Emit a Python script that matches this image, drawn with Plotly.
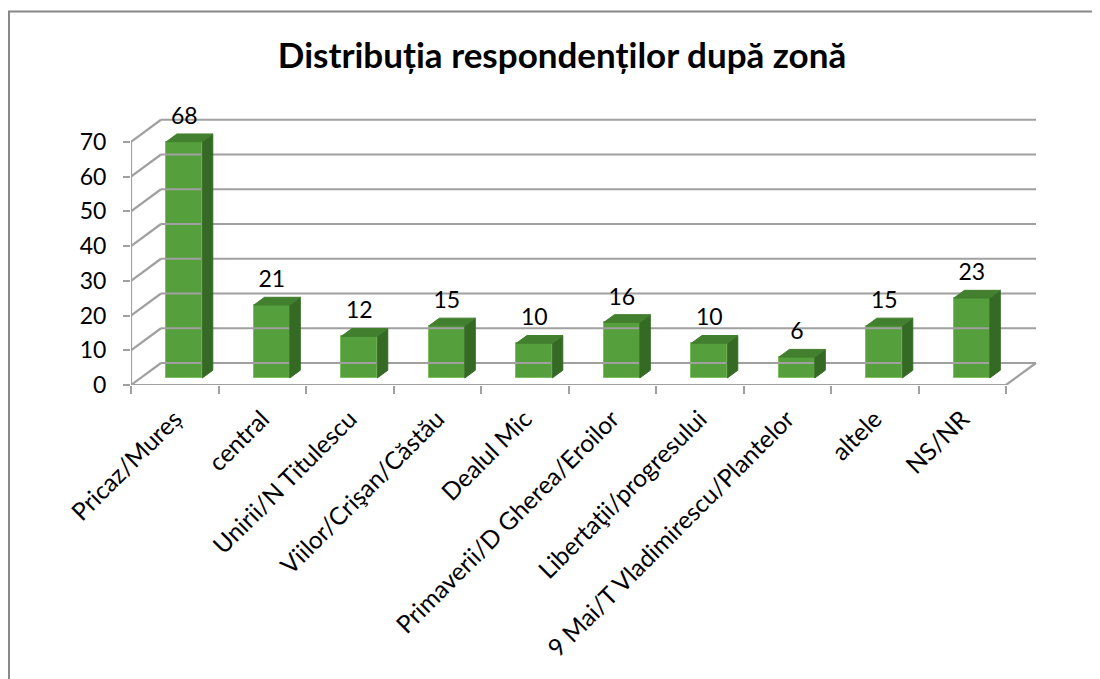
import plotly.graph_objects as go

# ---------------- data ----------------
categories = [
    "Pricaz/Mureș",
    "central",
    "Unirii/N Titulescu",
    "Viilor/Crişan/Căstău",
    "Dealul Mic",
    "Primaverii/D Gherea/Eroilor",
    "Libertaţii/progresului",
    "9 Mai/T Vladimirescu/Plantelor",
    "altele",
    "NS/NR",
]
values = [68, 21, 12, 15, 10, 16, 10, 6, 15, 23]
y_ticks = [0, 10, 20, 30, 40, 50, 60, 70]
title_text = "Distribuția respondenților după zonă"

# ---------------- geometry / style ----------------
OFF = 8                      # page body margin of the html page
W, H = 1100 - OFF, 679 - OFF
FONT = "Lato"
GRID = "#A0A0A0"
FRONT = "#559F3C"
SIDE = "#356A24"
TOP = "#427F2E"
EDGE = "#7DBF5E"

n = len(categories)
x_range = [-0.5, n - 0.5 + 0.4]
y_range = [0, 80]
ML = 131 - OFF
plot_w = 910
MR = W - ML - plot_w
MB = 679 - 385
MT = H - MB - 278
plot_h = H - MT - MB
px_cat = plot_w / (x_range[1] - x_range[0])
px_unit = plot_h / (y_range[1] - y_range[0])
DX = 30 / px_cat      # depth offset in category units
DY = 22 / px_unit     # depth offset in value units
d0, d1 = 0.32, 0.67   # bar depth span (fraction of floor depth)
bw = 0.41             # bar width in category units

fig = go.Figure()

# back wall gridlines, left wall diagonals, floor, front axis line
gx, gy = [], []
xl, xr = -0.5, n - 0.5
ymax = y_ticks[-1]
for v in y_ticks:
    gx += [xl + DX, xr + DX, None]
    gy += [v + DY, v + DY, None]
    gx += [xl, xl + DX, None]
    gy += [v, v + DY, None]
gx += [xl, xr, None, xr, xr + DX, None, xl, xl, None]
gy += [0, 0, None, 0, DY, None, 0, ymax, None]
fig.add_trace(go.Scatter(x=gx, y=gy, mode="lines",
                         line=dict(color=GRID, width=2.2),
                         hoverinfo="skip", cliponaxis=False, showlegend=False))

# bar front faces
xc = [i + d0 * DX for i in range(n)]
base = d0 * DY
fig.add_trace(go.Bar(x=xc, y=values, base=[base] * n, width=bw,
                     marker=dict(color=FRONT, line=dict(color=EDGE, width=1)),
                     hoverinfo="skip", showlegend=False))

# 3D top and side faces computed from the values
ddx = (d1 - d0) * DX
ddy = (d1 - d0) * DY
tx, ty, sx, sy = [], [], [], []
for c, v in zip(xc, values):
    x0, x1 = c - bw / 2, c + bw / 2
    t = base + v
    tx += [x0, x1, x1 + ddx, x0 + ddx, x0, None]
    ty += [t, t, t + ddy, t + ddy, t, None]
    sx += [x1, x1, x1 + ddx, x1 + ddx, x1, None]
    sy += [base, t, t + ddy, base + ddy, base, None]
fig.add_trace(go.Scatter(x=sx, y=sy, mode="lines", fill="toself",
                         fillcolor=SIDE, line=dict(color=SIDE, width=1),
                         hoverinfo="skip", showlegend=False))
fig.add_trace(go.Scatter(x=tx, y=ty, mode="lines", fill="toself",
                         fillcolor=TOP, line=dict(color=TOP, width=1),
                         hoverinfo="skip", showlegend=False))

# data labels
fig.add_trace(go.Scatter(x=xc, y=[v + 8.8 for v in values], mode="text",
                         text=[str(v) for v in values],
                         textposition="middle center",
                         textfont=dict(family=FONT, size=23, color="#000000"),
                         hoverinfo="skip", cliponaxis=False, showlegend=False))

# outer chart border
def px_to_paper_x(px):
    return (px - OFF - ML) / plot_w

def py_to_paper_y(py):
    return (H - MB - (py - OFF)) / plot_h

fig.add_shape(type="rect", xref="paper", yref="paper",
              x0=px_to_paper_x(9), x1=px_to_paper_x(1100 + 5),
              y0=py_to_paper_y(679 + 5), y1=py_to_paper_y(11.5),
              line=dict(color="#888888", width=2), fillcolor="rgba(0,0,0,0)")

fig.update_layout(
    width=W, height=H,
    margin=dict(l=ML, r=MR, t=MT, b=MB, autoexpand=False),
    paper_bgcolor="white", plot_bgcolor="white",
    bargap=0,
    title=dict(text="<b>" + title_text + "</b>", x=(562 - OFF) / W, xref="container",
               xanchor="center", y=1 - (56 - OFF) / H, yref="container", yanchor="middle",
               font=dict(family=FONT, size=35, color="#000000")),
    xaxis=dict(range=x_range, tickmode="array", tickvals=list(range(n)),
               ticktext=categories, tickangle=-45,
               ticks="outside", ticklen=9, tickcolor="rgba(0,0,0,0)",
               showgrid=False, zeroline=False, showline=False,
               tickfont=dict(family=FONT, size=24.5, color="#000000"),
               minor=dict(tickmode="array",
                          tickvals=[i - 0.5 for i in range(n + 1)],
                          ticks="outside", ticklen=8, tickwidth=2,
                          tickcolor=GRID, showgrid=False)),
    yaxis=dict(range=y_range, tickmode="array", tickvals=y_ticks,
               ticks="outside", ticklen=7, tickwidth=2, tickcolor=GRID,
               showgrid=False, zeroline=False, showline=False,
               tickfont=dict(family=FONT, size=23, color="#000000"),
               ticklabelstandoff=12),
)

fig.write_html("out.html")
